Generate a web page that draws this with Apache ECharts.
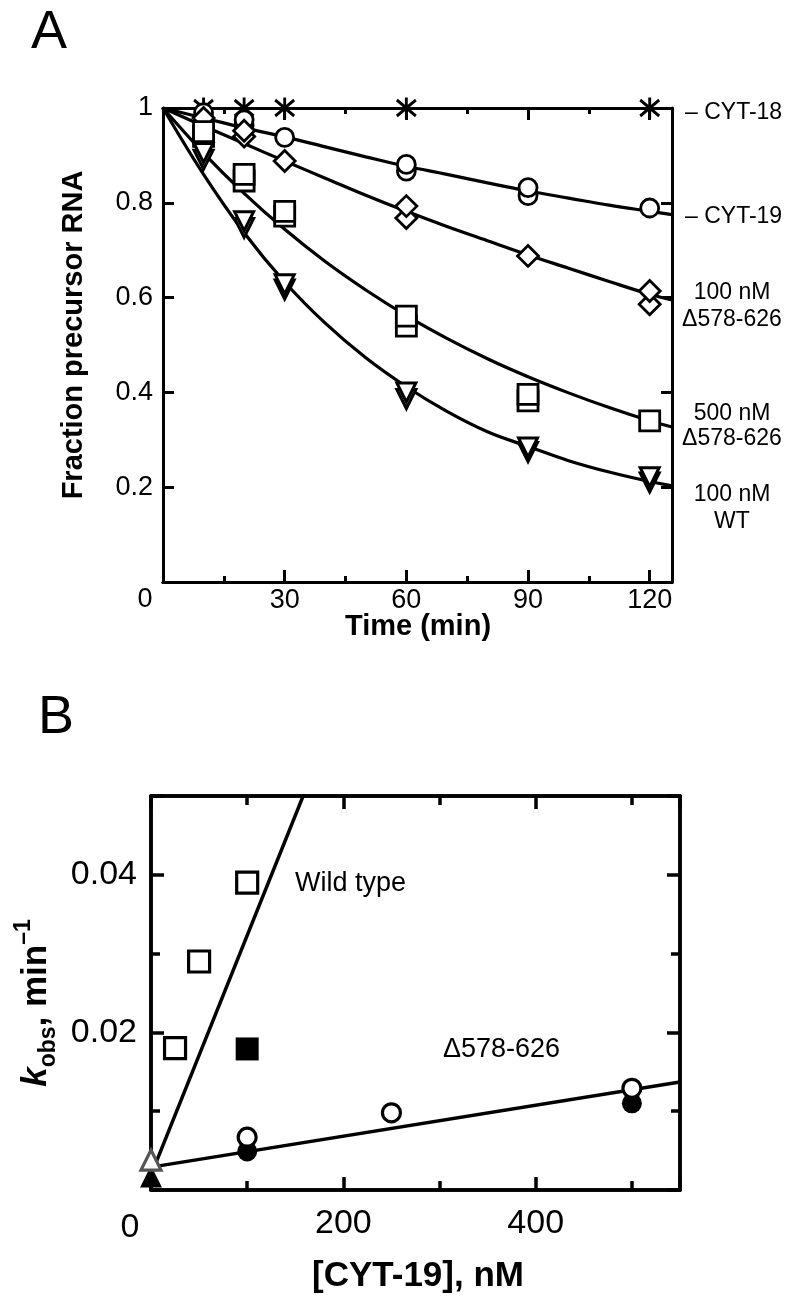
<!DOCTYPE html>
<html><head><meta charset="utf-8">
<script src="https://cdn.jsdelivr.net/npm/echarts@6/dist/echarts.min.js"></script>
<style>html,body{margin:0;padding:0;background:#fff}#c{width:800px;height:1309px}</style>
</head><body><div id="c"></div>
<script>
const FONT = '"Liberation Sans", Arial, Helvetica, sans-serif';

// ---------- Panel A data (Time in min, fraction precursor RNA) ----------
const aTicksX = [30, 60, 90, 120];
const cyt18Pts = [[10, 1], [20, 1], [30, 1], [60, 1], [120, 1]];
const cyt19Pts = [[10, 0.99], [20, 0.963], [20, 0.975], [30, 0.938], [60, 0.867], [60, 0.881], [90, 0.815], [90, 0.832], [120, 0.789]];
const d100Pts = [[10, 0.979], [20, 0.94], [20, 0.952], [30, 0.888], [60, 0.768], [60, 0.793], [90, 0.688], [120, 0.586], [120, 0.614]];
const d500Pts = [[10, 0.94], [10, 0.95], [20, 0.846], [20, 0.86], [30, 0.772], [30, 0.782], [60, 0.54], [60, 0.561], [90, 0.382], [90, 0.396], [120, 0.34]];
const wtPts = [[10, 0.891], [10, 0.905], [20, 0.747], [20, 0.761], [30, 0.617], [30, 0.628], [60, 0.386], [60, 0.40], [90, 0.274], [90, 0.284], [120, 0.21], [120, 0.221]];
// fitted curves
const fitX = [0, 10, 20, 30, 40, 50, 60, 70, 80, 90, 100, 110, 120, 125.5];
const fitCyt19 = [1, 0.979, 0.958, 0.939, 0.918, 0.897, 0.877, 0.86, 0.842, 0.825, 0.81, 0.795, 0.782, 0.775];
const fitD100 = [1, 0.962, 0.925, 0.888, 0.852, 0.816, 0.782, 0.75, 0.72, 0.69, 0.662, 0.634, 0.607, 0.595];
const fitD500 = [1, 0.905, 0.82, 0.744, 0.676, 0.616, 0.562, 0.514, 0.471, 0.433, 0.399, 0.368, 0.34, 0.327];
const fitWT = [1, 0.86, 0.737, 0.633, 0.546, 0.473, 0.412, 0.36, 0.317, 0.286, 0.256, 0.232, 0.212, 0.203];
const aRightLabels = ['– CYT-18', '– CYT-19', '100 nM\nΔ578-626', '500 nM\nΔ578-626', '100 nM\nWT'];

// ---------- Panel B data ([CYT-19] nM, kobs min^-1) ----------
const bTicksX = [200, 400];
const bTicksY = [0.02, 0.04];
const wtOpenB = [[25, 0.018], [50, 0.029], [100, 0.039]];
const wtFilledB = [[100, 0.0179]];
const delOpenB = [[100, 0.0067], [250, 0.0098], [500, 0.0129]];
const delFilledB = [[100, 0.0049], [500, 0.011]];
const noProtOpenB = [[0, 0.0038]];
const noProtFilledB = [[0, 0.0017]];
const wtFitB = [[5, 0.0034], [170, 0.0536]];
const delFitB = [[5, 0.0030], [550, 0.0137]];

const pair = (xs, ys) => xs.map((x, i) => [x, ys[i]]);
const near = (v, list) => list.some(t => Math.abs(v - t) < 1e-9);

function axis(grid, pos, min, max, interval, tickLen, lineW, label) {
  return {
    type: 'value', gridIndex: grid, position: pos, min: min, max: max, interval: interval,
    axisLine: { show: true, onZero: false, lineStyle: { color: '#000', width: lineW } },
    axisTick: { show: true, inside: true, length: tickLen, lineStyle: { color: '#000', width: lineW } },
    minorTick: { show: false },
    splitLine: { show: false },
    axisLabel: label ? Object.assign({ show: true, color: '#000', fontFamily: FONT, hideOverlap: false }, label) : { show: false }
  };
}

const xAxes = [
  axis(0, 'bottom', 0, 125.5, 30, 12, 3, { fontSize: 27, margin: 5, formatter: v => near(v, aTicksX) ? String(Math.round(v)) : '' }),
  axis(0, 'bottom', 0, 125.5, 15, 6, 3, null),
  axis(0, 'top', 0, 125.5, 30, 12, 3, null),
  axis(0, 'top', 0, 125.5, 15, 6, 3, null),
  axis(1, 'bottom', 0, 550, 200, 13, 3.5, { fontSize: 34, margin: 17, formatter: v => near(v, bTicksX) ? String(Math.round(v)) : '' }),
  axis(1, 'bottom', 0, 550, 100, 9, 3.5, null),
  axis(1, 'top', 0, 550, 200, 13, 3.5, null),
  axis(1, 'top', 0, 550, 100, 9, 3.5, null)
];
const yAxes = [
  axis(0, 'left', 0, 1, 0.2, 11, 3, { fontSize: 27, margin: 10, formatter: v => v < 1e-9 ? '' : String(+v.toFixed(1)) }),
  axis(0, 'right', 0, 1, 0.2, 11, 3, null),
  axis(1, 'left', 0, 0.05, 0.02, 13, 3.5, { fontSize: 34, margin: 14, formatter: v => near(v, bTicksY) ? v.toFixed(2) : '' }),
  axis(1, 'left', 0, 0.05, 0.01, 9, 3.5, null),
  axis(1, 'right', 0, 0.05, 0.02, 13, 3.5, null),
  axis(1, 'right', 0, 0.05, 0.01, 9, 3.5, null)
];

function fit(xi, yi, data, smooth, w) {
  return { type: 'line', xAxisIndex: xi, yAxisIndex: yi, data: data, smooth: smooth,
    symbol: 'none', showSymbol: false, clip: true, z: 2, silent: true,
    lineStyle: { color: '#000', width: w || 3.2 } };
}
function pts(xi, yi, data, symbol, size, opts) {
  opts = opts || {};
  return { type: 'scatter', xAxisIndex: xi, yAxisIndex: yi, data: data, symbol: symbol, symbolSize: size,
    symbolRotate: opts.rotate || 0, clip: false, z: 3, silent: true,
    itemStyle: { color: opts.fill || '#fff', borderColor: opts.border || '#000', borderWidth: opts.bw == null ? 2.8 : opts.bw, opacity: 1 } };
}
const ASTER = 'path://M0,0L20,20M20,0L0,20M10,-3L10,23';

const series = [
  fit(0, 0, pair(fitX, fitCyt19), 0.4),
  fit(0, 0, pair(fitX, fitD100), 0.4),
  fit(0, 0, pair(fitX, fitD500), 0.4),
  fit(0, 0, pair(fitX, fitWT), 0.4),
  pts(0, 0, cyt18Pts, ASTER, [19, 21], { fill: 'none', bw: 3 }),
  pts(0, 0, cyt19Pts, 'circle', 18),
  pts(0, 0, d100Pts, 'diamond', 21),
  pts(0, 0, d500Pts, 'rect', 20),
  pts(0, 0, wtPts, 'triangle', 19, { rotate: 180, bw: 3 }),
  fit(4, 2, wtFitB, false, 3.5),
  fit(4, 2, delFitB, false, 3.5),
  pts(4, 2, wtOpenB, 'rect', 21, { bw: 3.2 }),
  pts(4, 2, wtFilledB, 'rect', 23, { fill: '#000', bw: 0 }),
  pts(4, 2, delFilledB, 'circle', 20, { fill: '#000', bw: 0 }),
  pts(4, 2, delOpenB, 'circle', 18, { bw: 3.2 }),
  pts(4, 2, noProtFilledB, 'triangle', 22, { fill: '#000', bw: 0 }),
  pts(4, 2, noProtOpenB, 'triangle', 20, { border: '#555', bw: 3.2 })
];

function txt(x, y, text, size, opts) {
  opts = opts || {};
  return { type: 'text', x: x, y: y, rotation: opts.rot || 0, z: 10, silent: true,
    style: { text: text, fill: '#000', fontSize: size, fontFamily: FONT, fontWeight: opts.bold ? 'bold' : 'normal',
      align: opts.align || 'center', verticalAlign: 'middle', textAlign: opts.align || 'center', textVerticalAlign: 'middle',
      lineHeight: opts.lh || size * 1.12, rich: opts.rich } };
}

const graphics = [
  txt(49, 33, 'A', 54),
  txt(56, 718, 'B', 54),
  txt(145, 600, '0', 27),
  txt(130, 1228, '0', 34),
  txt(685, 113, aRightLabels[0], 23, { align: 'left' }),
  txt(685, 217, aRightLabels[1], 23, { align: 'left' }),
  txt(732, 306, aRightLabels[2], 23, { lh: 27 }),
  txt(732, 426, aRightLabels[3], 23, { lh: 25 }),
  txt(732, 508, aRightLabels[4], 23, { lh: 27 }),
  txt(74, 335, 'Fraction precursor RNA', 29, { bold: true, rot: Math.PI / 2 }),
  txt(418, 627, 'Time (min)', 29, { bold: true }),
  txt(295, 884, 'Wild type', 27, { align: 'left' }),
  txt(443, 1050, 'Δ578-626', 27, { align: 'left' }),
  txt(418, 1276, '[CYT-19], nM', 35, { bold: true }),
  txt(36, 1003, '{k|k}{s|obs}{n|, min}{p|–1}', 35, { bold: true, rot: Math.PI / 2, lh: 48, rich: {
    k: { fontSize: 35, fontStyle: 'italic', fontWeight: 'bold', fontFamily: FONT, lineHeight: 48, verticalAlign: 'middle', fill: '#000' },
    s: { fontSize: 23, fontWeight: 'bold', fontFamily: FONT, lineHeight: 23, verticalAlign: 'bottom', fill: '#000' },
    n: { fontSize: 35, fontWeight: 'bold', fontFamily: FONT, lineHeight: 48, verticalAlign: 'middle', fill: '#000' },
    p: { fontSize: 23, fontWeight: 'bold', fontFamily: FONT, lineHeight: 23, verticalAlign: 'top', fill: '#000' }
  } })
];

const chart = echarts.init(document.getElementById('c'), null, { renderer: 'canvas' });
chart.setOption({
  animation: false,
  backgroundColor: '#fff',
  grid: [
    { left: 163, top: 108, width: 509, height: 474, containLabel: false, outerBoundsMode: 'none' },
    { left: 151, top: 796, width: 529, height: 394, containLabel: false, outerBoundsMode: 'none' }
  ],
  xAxis: xAxes,
  yAxis: yAxes,
  series: series,
  graphic: graphics
});
</script></body></html>
